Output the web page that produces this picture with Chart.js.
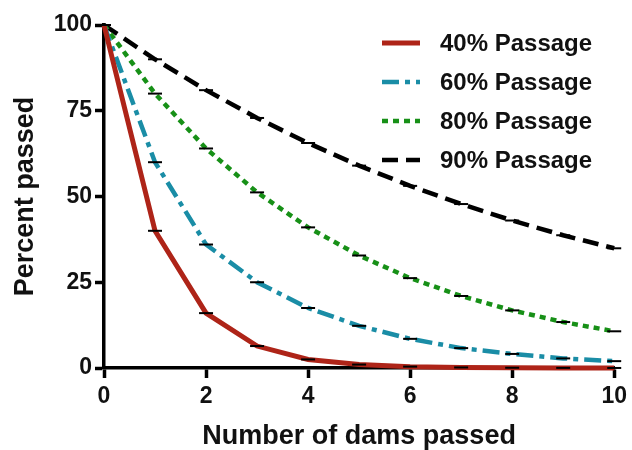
<!DOCTYPE html>
<html>
<head>
<meta charset="utf-8">
<script src="https://cdn.jsdelivr.net/npm/chart.js@4"></script>
<style>
  html, body { margin: 0; padding: 0; background: #fff; }
  #wrap { width: 632px; height: 450px; }
</style>
</head>
<body>
<div id="wrap"><canvas id="line-chartcanvas"></canvas></div>
<script>
let dams = [0, 1, 2, 3, 4, 5, 6, 7, 8, 9, 10]
let pass40 = [100, 40, 16, 6.4, 2.5, 1.0, 0.4, 0.16, 0.07, 0.03, 0.01]
let pass60 = [100, 60, 36, 25, 17.5, 12.3, 8.5, 5.8, 4.1, 2.8, 2.0]
let pass80 = [100, 80, 64, 51.2, 41, 32.8, 26.2, 21, 16.8, 13.4, 10.7]
let pass90 = [100, 90, 81, 72.9, 65.6, 59, 53.1, 47.8, 43, 38.7, 34.9]
let yTicks = [0, 25, 50, 75, 100]
let xTicks = [0, 2, 4, 6, 8, 10]

const FONT = "'Liberation Sans', Arial, sans-serif"

function series(label, values, color, dash, width) {
    return {
        label: label,
        data: dams.map((d, i) => ({ x: d, y: values[i] })),
        borderColor: color,
        backgroundColor: color,
        borderWidth: width,
        borderDash: dash,
        fill: false,
        tension: 0,
        clip: false,
        pointStyle: 'line',
        pointRadius: 7,
        pointBorderColor: '#000',
        pointBackgroundColor: '#000',
        pointBorderWidth: 2,
        pointHoverRadius: 7
    }
}

// legend drawn inside the plot, top right
const legendInside = {
    id: 'legendInside',
    afterDraw(chart) {
        let ctx = chart.ctx
        ctx.save()
        chart.data.datasets.forEach((ds, i) => {
            let y = 43 + i * 39
            ctx.beginPath()
            ctx.strokeStyle = ds.borderColor
            ctx.lineWidth = ds.borderWidth
            ctx.setLineDash(ds.borderDash)
            ctx.moveTo(382, y)
            ctx.lineTo(420, y)
            ctx.stroke()
            ctx.setLineDash([])
            ctx.fillStyle = '#111'
            ctx.font = "bold 24px " + FONT
            ctx.textBaseline = 'middle'
            ctx.fillText(ds.label, 440, y + 1)
        })
        ctx.restore()
    }
}

const ctx = document.getElementById('line-chartcanvas')

new Chart(ctx, {
    type: 'line',
    data: {
        datasets: [
            series('40% Passage', pass40, '#AE2418', [], 5),
            series('60% Passage', pass60, '#1A8DA6', [17, 6, 5, 6], 4.5),
            series('80% Passage', pass80, '#179017', [6, 5], 4.5),
            series('90% Passage', pass90, '#000000', [16, 8], 4.5)
        ]
    },
    options: {
        responsive: true,
        maintainAspectRatio: false,
        animation: false,
        layout: { padding: { top: 25, right: 16, left: 0, bottom: 0 } },
        plugins: {
            legend: { display: false },
            tooltip: { enabled: false }
        },
        scales: {
            x: {
                type: 'linear',
                min: 0,
                max: 10,
                afterFit: (s) => { s.height = 82 },
                afterBuildTicks: (s) => { s.ticks = xTicks.map(v => ({ value: v })) },
                border: { display: true, color: '#000', width: 3.5 },
                grid: { drawOnChartArea: false, drawTicks: true, tickLength: 10, tickWidth: 3.5, tickColor: '#000' },
                ticks: { color: '#111', padding: 5, font: { family: FONT, size: 23, weight: 'bold' } },
                title: {
                    display: true,
                    text: 'Number of dams passed',
                    color: '#111',
                    padding: { top: 0, bottom: 0 },
                    font: { family: FONT, size: 27, weight: 'bold', lineHeight: 1 }
                }
            },
            y: {
                min: 0,
                max: 100,
                afterFit: (s) => { s.width = 104 },
                afterBuildTicks: (s) => { s.ticks = yTicks.map(v => ({ value: v })) },
                border: { display: true, color: '#000', width: 3.5 },
                grid: { drawOnChartArea: false, drawTicks: true, tickLength: 9, tickWidth: 3.5, tickColor: '#000' },
                ticks: { color: '#111', padding: 3, font: { family: FONT, size: 23, weight: 'bold' } },
                title: {
                    display: true,
                    text: 'Percent passed',
                    color: '#111',
                    padding: { top: 12, bottom: 0 },
                    font: { family: FONT, size: 27, weight: 'bold', lineHeight: 1 }
                }
            }
        }
    },
    plugins: [legendInside]
});
</script>
</body>
</html>
